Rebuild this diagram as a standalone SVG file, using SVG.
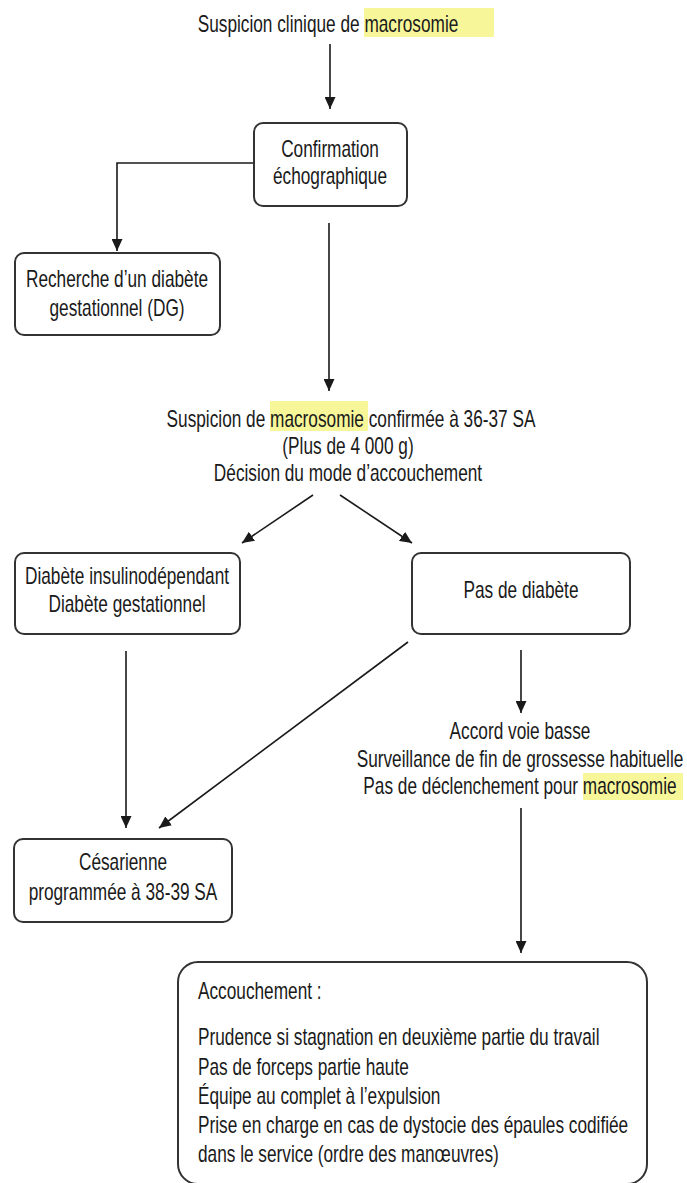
<svg xmlns="http://www.w3.org/2000/svg" width="687" height="1183" viewBox="0 0 687 1183">
<defs>
<marker id="ah" markerUnits="userSpaceOnUse" markerWidth="12" markerHeight="11" refX="12" refY="5.5" orient="auto">
<path d="M0,0 L12,5.5 L0,11 Z" fill="#1a1a1a"/>
</marker>
<style>
text{font-family:"Liberation Sans",Arial,sans-serif;font-size:23px;fill:#1a1a1a}
.c{text-anchor:middle}
.box{fill:#fff;stroke:#333;stroke-width:2}
.hl{fill:#f7f79a}
.ln{stroke:#1a1a1a;stroke-width:1.6;fill:none}
.ar{marker-end:url(#ah)}
</style>
</defs>
<rect width="687" height="1183" fill="#fff"/>

<g id="connectors">
<line class="ln ar" x1="330" y1="44" x2="330" y2="109"/>
<polyline class="ln ar" points="254,163 117,163 117,251"/>
<line class="ln ar" x1="329" y1="223" x2="329" y2="391"/>
<line class="ln ar" x1="313" y1="495" x2="242" y2="543"/>
<line class="ln ar" x1="340" y1="495" x2="412" y2="543"/>
<line class="ln ar" x1="126" y1="651" x2="126" y2="828"/>
<line class="ln ar" x1="408" y1="642" x2="159" y2="828"/>
<line class="ln ar" x1="521" y1="650" x2="521" y2="713"/>
<line class="ln ar" x1="521" y1="808" x2="521" y2="953"/>
</g>

<g id="n-start">
<rect class="hl" x="364" y="8" width="130" height="29"/>
<text class="c" transform="translate(328,32) scale(0.75,1)">Suspicion clinique de macrosomie</text>
</g>

<g id="n-confirmation">
<rect class="box" x="254" y="123" width="153" height="83" rx="9"/>
<text class="c" transform="translate(330,157) scale(0.75,1)">Confirmation</text>
<text class="c" transform="translate(330,184) scale(0.75,1)">échographique</text>
</g>

<g id="n-recherche">
<rect class="box" x="15" y="253" width="205" height="82" rx="9"/>
<text class="c" transform="translate(117,287) scale(0.75,1)">Recherche d’un diabète</text>
<text class="c" transform="translate(117,316) scale(0.75,1)">gestationnel (DG)</text>
</g>

<g id="n-decision">
<rect class="hl" x="270" y="401" width="98" height="30"/>
<text class="c" transform="translate(351,427) scale(0.75,1)">Suspicion de macrosomie confirmée à 36-37 SA</text>
<text class="c" transform="translate(348,454) scale(0.75,1)">(Plus de 4 000 g)</text>
<text class="c" transform="translate(348,481) scale(0.75,1)">Décision du mode d’accouchement</text>
</g>

<g id="n-diabete">
<rect class="box" x="15" y="553" width="225" height="81" rx="9"/>
<text class="c" transform="translate(127,584) scale(0.75,1)">Diabète insulinodépendant</text>
<text class="c" transform="translate(127,612) scale(0.75,1)">Diabète gestationnel</text>
</g>

<g id="n-pasdiabete">
<rect class="box" x="412" y="553" width="218" height="81" rx="9"/>
<text class="c" transform="translate(521,598) scale(0.75,1)">Pas de diabète</text>
</g>

<g id="n-cesarienne">
<rect class="box" x="14" y="839" width="218" height="83" rx="9"/>
<text class="c" transform="translate(123,870) scale(0.75,1)">Césarienne</text>
<text class="c" transform="translate(123,900) scale(0.75,1)">programmée à 38-39 SA</text>
</g>

<g id="n-voiebasse">
<rect class="hl" x="583" y="773" width="100" height="27"/>
<text class="c" transform="translate(520,739) scale(0.75,1)">Accord voie basse</text>
<text class="c" transform="translate(520,767) scale(0.75,1)">Surveillance de fin de grossesse habituelle</text>
<text class="c" transform="translate(520,794) scale(0.75,1)">Pas de déclenchement pour macrosomie</text>
</g>

<g id="n-accouchement">
<rect class="box" x="178" y="962" width="469" height="222" rx="20"/>
<text transform="translate(198,999) scale(0.75,1)">Accouchement :</text>
<text transform="translate(198,1045) scale(0.75,1)">Prudence si stagnation en deuxième partie du travail</text>
<text transform="translate(198,1075) scale(0.75,1)">Pas de forceps partie haute</text>
<text transform="translate(198,1104) scale(0.75,1)">Équipe au complet à l’expulsion</text>
<text transform="translate(198,1133) scale(0.75,1)">Prise en charge en cas de dystocie des épaules codifiée</text>
<text transform="translate(198,1162) scale(0.75,1)">dans le service (ordre des manœuvres)</text>
</g>
</svg>
